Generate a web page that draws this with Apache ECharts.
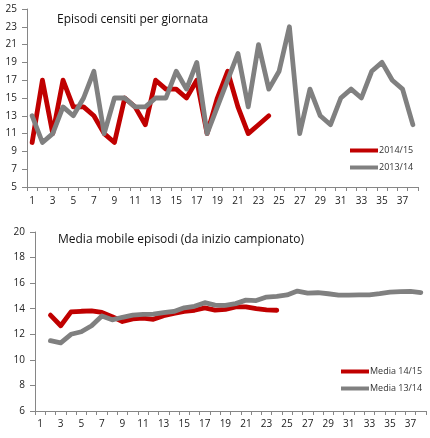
<!DOCTYPE html>
<html>
<head>
<meta charset="utf-8">
<script src="https://cdn.jsdelivr.net/npm/echarts@6/dist/echarts.min.js"></script>
<style>html,body{margin:0;padding:0;background:#fff}#c{width:430px;height:438px}</style>
</head>
<body>
<div id="c"></div>
<script>
var giornate = ['1','2','3','4','5','6','7','8','9','10','11','12','13','14','15','16','17','18','19','20','21','22','23','24','25','26','27','28','29','30','31','32','33','34','35','36','37','38'];
var episodi1415 = [10,17,11,17,14,14,13,11,10,15,14,12,17,16,16,15,17,11,15,18,14,11,12,13];
var episodi1314 = [13,10,11,14,13,15,18,11,15,15,14,14,15,15,18,16,19,11,14,17,20,14,21,16,18,23,11,16,13,12,15,16,15,18,19,17,16,12];
var media1415 = [null,13.5,12.67,13.75,13.8,13.83,13.71,13.38,13.0,13.2,13.27,13.17,13.46,13.64,13.8,13.88,14.06,13.89,13.95,14.15,14.14,14.0,13.91,13.88];
var media1314 = [null,11.5,11.33,12.0,12.2,12.67,13.43,13.13,13.33,13.5,13.55,13.58,13.69,13.79,14.07,14.19,14.47,14.28,14.26,14.4,14.67,14.64,14.91,14.96,15.08,15.38,15.22,15.25,15.17,15.07,15.06,15.09,15.09,15.18,15.29,15.33,15.35,15.26];
var topYTicks = [5,7,9,11,13,15,17,19,21,23,25];
var bottomYTicks = [6,8,10,12,14,16,18,20];

var RED = '#C00000', GRAY = '#808080', AXIS = '#868686', TXT = '#222';
var FONT = 'Open Sans';
var chart = echarts.init(document.getElementById('c'), null, {renderer:'canvas'});
function xAxis(gi, margin){
  return {type:'category', gridIndex:gi, data:giornate, boundaryGap:true,
    axisLine:{lineStyle:{color:AXIS,width:1}},
    axisTick:{show:true, interval:0, length:4, lineStyle:{color:AXIS}},
    axisLabel:{interval:1, color:TXT, fontSize:10, fontFamily:FONT, margin:margin},
    splitLine:{show:false}};
}
chart.setOption({
  animation:false,
  textStyle:{fontFamily:FONT},
  title:[
    {text:'Episodi censiti per giornata', left:57, top:14, padding:0, textStyle:{fontSize:12,fontWeight:'normal',color:'#111',fontFamily:FONT}},
    {text:'Media mobile episodi (da inizio campionato)', left:58, top:234, padding:0, textStyle:{fontSize:12,fontWeight:'normal',color:'#111',fontFamily:FONT}}
  ],
  legend:[
    {data:['2014/15','2013/14'], orient:'vertical', left:350, top:146, padding:0, itemWidth:28, itemHeight:4, itemGap:8, icon:'rect',
     textStyle:{fontSize:9,color:'#333',fontFamily:FONT, padding:[0,0,0,-4]}},
    {data:['Media 14/15','Media 13/14'], orient:'vertical', left:341, top:367, padding:0, itemWidth:28, itemHeight:4, itemGap:8, icon:'rect',
     textStyle:{fontSize:9,color:'#333',fontFamily:FONT, padding:[0,0,0,-4]}}
  ],
  grid:[
    {left:27, right:12, top:9, height:178, containLabel:false},
    {left:35, right:4, top:232, height:179, containLabel:false}
  ],
  xAxis:[xAxis(0,9), xAxis(1,8)],
  yAxis:[
    {type:'value', gridIndex:0, min:5, max:25,
     axisLine:{show:true,lineStyle:{color:AXIS}},
     axisTick:{show:true,length:5,customValues:topYTicks,lineStyle:{color:AXIS}},
     axisLabel:{customValues:topYTicks,color:TXT,fontSize:10,fontFamily:FONT,margin:10},
     splitLine:{show:false}},
    {type:'value', gridIndex:1, min:6, max:20, interval:2,
     axisLine:{show:true,lineStyle:{color:AXIS}},
     axisTick:{show:true,length:5,lineStyle:{color:AXIS}},
     axisLabel:{color:TXT,fontSize:10,fontFamily:FONT,margin:10},
     splitLine:{show:false}}
  ],
  series:[
    {name:'2014/15', type:'line', xAxisIndex:0, yAxisIndex:0, data:episodi1415, showSymbol:false, symbol:'none', z:3,
     itemStyle:{color:RED}, lineStyle:{color:RED,width:4.8,join:'round',cap:'round'}},
    {name:'2013/14', type:'line', xAxisIndex:0, yAxisIndex:0, data:episodi1314, showSymbol:false, symbol:'none', z:4,
     itemStyle:{color:GRAY}, lineStyle:{color:GRAY,width:4.8,join:'round',cap:'round'}},
    {name:'Media 14/15', type:'line', xAxisIndex:1, yAxisIndex:1, data:media1415, showSymbol:false, symbol:'none', z:3,
     itemStyle:{color:RED}, lineStyle:{color:RED,width:4.8,join:'round',cap:'round'}},
    {name:'Media 13/14', type:'line', xAxisIndex:1, yAxisIndex:1, data:media1314, showSymbol:false, symbol:'none', z:4,
     itemStyle:{color:GRAY}, lineStyle:{color:GRAY,width:4.8,join:'round',cap:'round'}}
  ]
});
</script>
</body>
</html>
